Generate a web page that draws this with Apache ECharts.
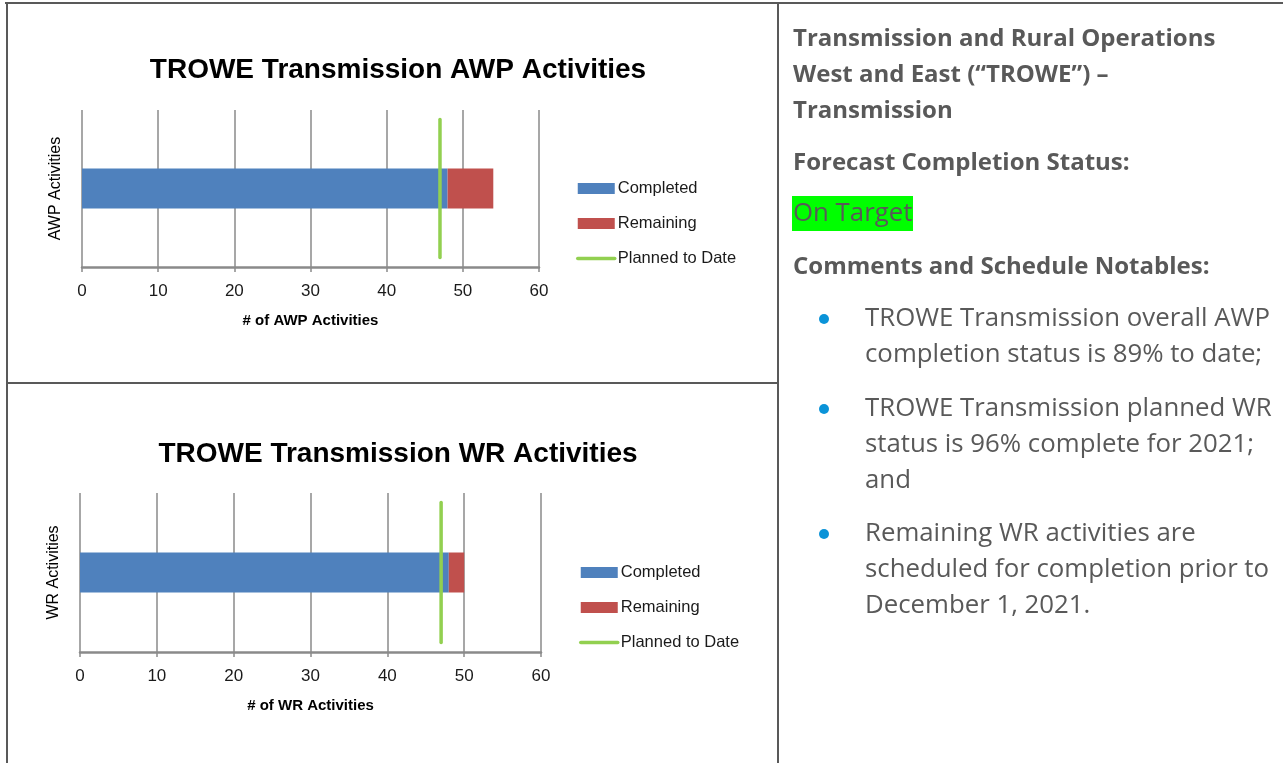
<!DOCTYPE html>
<html>
<head>
<meta charset="utf-8">
<script src="https://cdn.jsdelivr.net/npm/echarts@6/dist/echarts.min.js"></script>
<style>
  html, body { margin: 0; padding: 0; background: #fff; }
  #page { width: 1283px; height: 763px; }
</style>
</head>
<body>
<div id="page"></div>
<script>
// chart values
var categories = ['AWP Activities', 'WR Activities'];
var chartTitles = ['TROWE Transmission AWP Activities', 'TROWE Transmission WR Activities'];
var xNames = ['# of AWP Activities', '# of WR Activities'];
var completed = [48, 48];
var remaining = [6, 2];
var planned = [47, 47];
var seriesNames = ['Completed', 'Remaining', 'Planned to Date'];
var xMax = 60, xStep = 10;

// right column text
var headLines = ['Transmission and Rural Operations', 'West and East (\u201cTROWE\u201d) \u2013', 'Transmission'];
var statusLabel = 'Forecast Completion Status:';
var statusValue = 'On Target';
var notesLabel = 'Comments and Schedule Notables:';
var bullets = [
  ['TROWE Transmission overall AWP', 'completion status is 89% to date;'],
  ['TROWE Transmission planned WR', 'status is 96% complete for 2021;', 'and'],
  ['Remaining WR activities are', 'scheduled for completion prior to', 'December 1, 2021.']
];

var chart = echarts.init(document.getElementById('page'));

var grids = [
  { left: 82, top: 110, width: 457, height: 157 },
  { left: 80, top: 493, width: 461, height: 159 }
];
var titleY = [51, 435];
var legendTop = [180, 564];
var legendLeft = [576, 579];
var lineSpan = [0.06, 0.94]; // vertical extent of the planned marker inside the plot

var gray = '#8a8a8a';
var tickFont = { fontFamily: 'Liberation Sans', fontSize: 17, color: '#1a1a1a' };

var xAxes = [], yAxes = [], series = [], titles = [], legends = [];
grids.forEach(function(g, i){
  titles.push({
    text: chartTitles[i], left: 393, top: titleY[i], textAlign: 'center',
    textStyle: { fontFamily: 'Liberation Sans', fontWeight: 'bold', fontSize: 28, color: '#000' }
  });
  xAxes.push({
    type: 'value', gridIndex: i, min: 0, max: xMax, interval: xStep,
    name: xNames[i], nameLocation: 'middle', nameGap: 46,
    nameTextStyle: { fontFamily: 'Liberation Sans', fontWeight: 'bold', fontSize: 15, color: '#000' },
    axisLine: { show: true, lineStyle: { color: gray, width: 2.5 } },
    axisTick: { show: true, length: 5, lineStyle: { color: gray, width: 1.5 } },
    axisLabel: Object.assign({ margin: 16 }, tickFont),
    splitLine: { show: true, lineStyle: { color: gray, width: 1.5 } }
  });
  yAxes.push({
    type: 'category', gridIndex: i, data: [categories[i]],
    name: categories[i], nameLocation: 'middle', nameGap: 18, nameRotate: 90,
    nameTextStyle: { fontFamily: 'Liberation Sans', fontSize: 16, color: '#000' },
    axisLine: { show: false }, axisTick: { show: false }, axisLabel: { show: false }
  });
  yAxes.push({
    type: 'value', gridIndex: i, min: 0, max: 1, show: false
  });
  series.push({
    name: seriesNames[0], type: 'bar', stack: 'tot' + i, barWidth: 40,
    xAxisIndex: i, yAxisIndex: i * 2,
    itemStyle: { color: '#4f81bd' }, data: [completed[i]]
  });
  series.push({
    name: seriesNames[1], type: 'bar', stack: 'tot' + i, barWidth: 40,
    xAxisIndex: i, yAxisIndex: i * 2,
    itemStyle: { color: '#c0504d' }, data: [remaining[i]]
  });
  series.push({
    name: seriesNames[2], type: 'line', xAxisIndex: i, yAxisIndex: i * 2 + 1,
    symbol: 'none', z: 5,
    lineStyle: { color: '#92d050', width: 3.5, cap: 'round' },
    itemStyle: { color: '#92d050' },
    data: [[planned[i], lineSpan[0]], [planned[i], lineSpan[1]]]
  });
  legends.push({
    orient: 'vertical', left: legendLeft[i], top: legendTop[i], padding: 0,
    itemWidth: 37, itemHeight: 11, itemGap: 18,
    textStyle: { fontFamily: 'Liberation Sans', fontSize: 16.5, lineHeight: 15, color: '#1a1a1a', padding: [0, 0, 0, -2] },
    data: [
      { name: seriesNames[0], icon: 'rect' },
      { name: seriesNames[1], icon: 'rect' },
      { name: seriesNames[2], itemStyle: { opacity: 0 }, lineStyle: { width: 3.5, color: '#92d050' } }
    ]
  });
});

// borders and right column text
var border = { stroke: '#595959', lineWidth: 2 };
var txtGray = '#595959';
var graphics = [
  { type: 'line', shape: { x1: 5, y1: 3, x2: 1283, y2: 3 }, style: border },
  { type: 'line', shape: { x1: 7, y1: 3, x2: 7, y2: 763 }, style: border },
  { type: 'line', shape: { x1: 778, y1: 3, x2: 778, y2: 763 }, style: border },
  { type: 'line', shape: { x1: 7, y1: 383, x2: 778, y2: 383 }, style: border }
];
function addText(str, x, y, bold){
  graphics.push({
    type: 'text', x: x, y: y,
    style: {
      text: str, fill: txtGray, verticalAlign: 'middle',
      font: (bold ? 'bold 24px' : '25.8px') + ' "Open Sans"'
    }
  });
}
headLines.forEach(function(l, k){ addText(l, 793, 39 + k * 36, true); });
addText(statusLabel, 793, 163, true);
graphics.push({ type: 'rect', shape: { x: 792, y: 196, width: 121, height: 35 }, style: { fill: '#00ff00' } });
addText(statusValue, 793, 214, false);
addText(notesLabel, 793, 267, true);
var bulletY = [319, 409, 534];
bullets.forEach(function(lines, b){
  graphics.push({ type: 'circle', shape: { cx: 824, cy: bulletY[b], r: 5 }, style: { fill: '#0a93d8' } });
  lines.forEach(function(l, k){ addText(l, 865, bulletY[b] + k * 36, false); });
});

var option = {
  animation: false,
  title: titles,
  legend: legends,
  grid: grids,
  xAxis: xAxes,
  yAxis: yAxes,
  series: series,
  graphic: graphics
};
chart.setOption(option);
</script>
</body>
</html>
